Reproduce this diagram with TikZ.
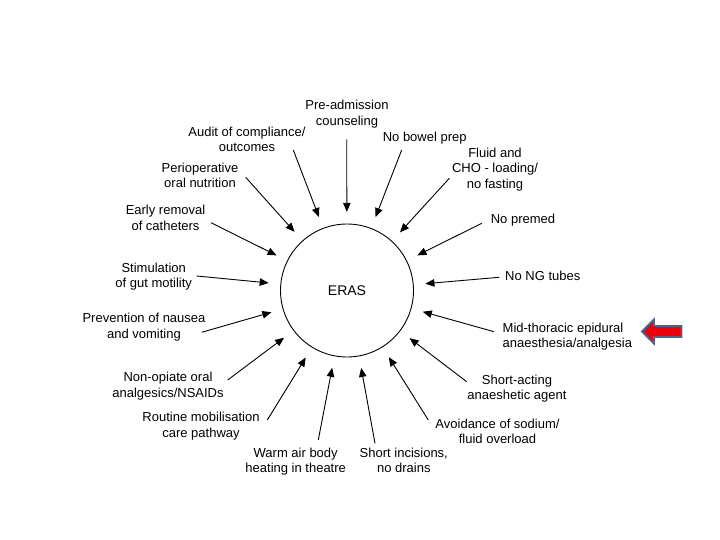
\documentclass[tikz,border=0pt]{standalone}
\usepackage{fontspec}
\setmainfont{Liberation Sans}
\usetikzlibrary{arrows.meta}
\begin{document}
\begin{tikzpicture}[x=1pt,y=-1pt,
  lbl/.style={align=center,inner sep=0pt,font=\fontsize{13}{15.5}\selectfont},
  arr/.style={-{Triangle[length=9pt,width=7.5pt]},line width=0.9pt},
  ringc/.style={circle,draw=black,line width=0.9pt,minimum size=133pt,inner sep=0pt,font=\fontsize{14}{16}\selectfont},
  ringo/.style={circle,minimum size=157pt,inner sep=0pt}]
\useasboundingbox (0,0) rectangle (720,540);
\fill[white] (0,0) rectangle (720,540);
% central circle
\node[ringc] (eras) at (347,290.5) {ERAS};
\node[ringo] (ring) at (347,290.5) {};
% labels
\node[lbl] (pre) at (347,114) {Pre-admission\\counseling};
\node[lbl] (audit) at (247,139.5) {Audit of compliance/\\outcomes};
\node[lbl] (periop) at (200,175.5) {Perioperative\\oral nutrition};
\node[lbl] (early) at (165.5,218) {Early removal\\of catheters};
\node[lbl] (stim) at (153.7,276.5) {Stimulation\\of gut motility};
\node[lbl] (prev) at (144,327) {Prevention of nausea\\and vomiting};
\node[lbl] (nonop) at (168,386) {Non-opiate oral\\analgesics/NSAIDs};
\node[lbl] (routine) at (201,426) {Routine mobilisation\\care pathway};
\node[lbl] (warm) at (295.7,461.7) {Warm air body\\heating in theatre};
\node[lbl] (short) at (403.8,460.3) {Short incisions,\\no drains};
\node[lbl] (avoid) at (497.5,431.5) {Avoidance of sodium/\\fluid overload};
\node[lbl] (shortact) at (517,388.7) {Short-acting\\anaeshetic agent};
\node[lbl,align=left,anchor=west] (mid) at (502.5,336.7) {Mid-thoracic epidural\\anaesthesia/analgesia};
\node[lbl] (nong) at (542.8,276) {No NG tubes};
\node[lbl] (premed) at (523,220.5) {No premed};
\node[lbl] (fluid) at (495,169.3) {Fluid and\\CHO - loading/\\no fasting};
\node[lbl] (bowel) at (424.7,138.5) {No bowel prep};
% arrow tails
\coordinate (tpre) at (346.7,139.3);
\coordinate (taudit) at (293.3,150);
\coordinate (tperiop) at (245.7,177.3);
\coordinate (tearly) at (211,222.7);
\coordinate (tstim) at (196.7,276);
\coordinate (tprev) at (201.7,332.3);
\coordinate (tnonop) at (227.7,380);
\coordinate (troutine) at (267.3,420);
\coordinate (twarm) at (318.3,440);
\coordinate (tshort) at (375,443.3);
\coordinate (tavoid) at (428.3,420);
\coordinate (tshortact) at (466.7,381.7);
\coordinate (tmid) at (494,331.7);
\coordinate (tnong) at (499,277.3);
\coordinate (tpremed) at (481.7,223.3);
\coordinate (tfluid) at (449.3,178.3);
\coordinate (tbowel) at (401.7,150);
\foreach \t in {pre,audit,periop,early,stim,prev,nonop,routine,warm,short,avoid,shortact,mid,nong,premed,fluid,bowel}
  \draw[arr] (t\t) -- (ring);
% red block arrow
\draw[draw={rgb,255:red,79;green,98;blue,135},line width=1.8pt,fill={rgb,255:red,232;green,0;blue,12},line join=miter]
  (642,331.5) -- (654,319.5) -- (654,326) -- (681.5,326) -- (681.5,337) -- (654,337) -- (654,343.5) -- cycle;
\end{tikzpicture}
\end{document}
